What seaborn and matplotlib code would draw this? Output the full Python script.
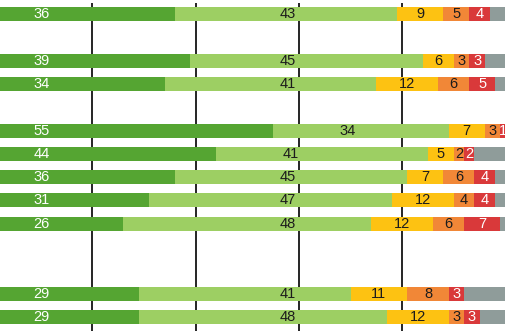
import numpy as np
import pandas as pd
import seaborn as sns
import matplotlib.pyplot as plt
from matplotlib import font_manager

# Share of answers per row, in percent
very_good = [36, 39, 34, 55, 44, 36, 31, 26, 29, 29]
good = [43, 45, 41, 34, 41, 45, 47, 48, 41, 48]
fair = [9, 6, 12, 7, 5, 7, 12, 12, 11, 12]
poor = [5, 3, 6, 3, 2, 6, 4, 6, 8, 3]
very_poor = [4, 3, 5, 1, 2, 4, 4, 7, 3, 3]

# Vertical slot of each row (blank slots separate the groups)
row_slots = [0, 2, 3, 5, 6, 7, 8, 9, 12, 13]

segments = [very_good, good, fair, poor, very_poor]
colors = ["#55a532", "#9dcf63", "#fdc212", "#f18737", "#d9393a"]
rest_color = "#8f9c9a"
text_colors = ["white", "#1c1c1c", "#1c1c1c", "#1c1c1c", "white"]

sns.set_theme(style="white")
installed = {f.name for f in font_manager.fontManager.ttflist}
families = [f for f in ["Liberation Sans Narrow", "Liberation Sans", "DejaVu Sans"] if f in installed]
plt.rcParams["font.family"] = families

fig = plt.figure(figsize=(5.07, 3.31), dpi=100)
ax = fig.add_axes([0, 0, 1, 1])

vals = np.array(segments, dtype=float)          # shape (5, rows)
cum = np.cumsum(vals, axis=0)

# background bar for the remainder (no answer)
df_rest = pd.DataFrame({"slot": row_slots, "value": [100.0] * len(row_slots)})
sns.barplot(data=df_rest, x="value", y="slot", orient="y", native_scale=True,
            color=rest_color, width=0.6, saturation=1, linewidth=0, ax=ax)

# stacked segments drawn as cumulative totals, outermost first
for i in range(len(segments) - 1, -1, -1):
    df = pd.DataFrame({"slot": row_slots, "value": cum[i]})
    sns.barplot(data=df, x="value", y="slot", orient="y", native_scale=True,
                color=colors[i], width=0.6, saturation=1, linewidth=0, ax=ax)

# vertical reference lines
ax.vlines([20, 40, 60, 80], ymin=-0.48, ymax=14, colors="black", linewidth=1.2, zorder=0.5)

# value labels
for r, slot in enumerate(row_slots):
    starts = np.concatenate([[0], cum[:-1, r]])
    for i in range(len(segments)):
        v = vals[i, r]
        if i == 0:
            x = 10.2
        elif i == 1:
            x = max(57.9, starts[i] + 14.5)
        else:
            x = starts[i] + v / 2
        ax.text(x, slot, f"{int(v)}", ha="center", va="center", fontsize=10.5,
                color=text_colors[i], zorder=5)

ax.set_xlim(2.12, 100.3)
ax.set_ylim(13.61, -0.61)
ax.axis("off")

fig.savefig("out.png", dpi=100)
